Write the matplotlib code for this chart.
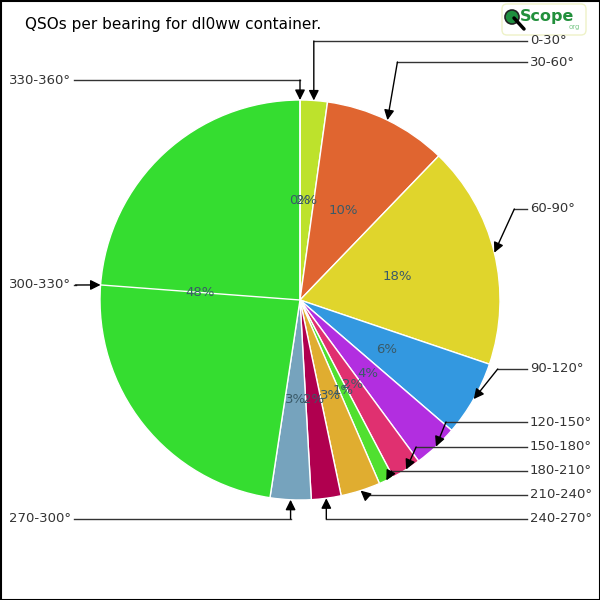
"""QSOs per bearing pie chart for dl0ww container."""

import numpy as np
import matplotlib.pyplot as plt
from matplotlib.patches import FancyBboxPatch, Circle

bearings = ["0-30°", "30-60°", "60-90°", "90-120°", "120-150°", "150-180°",
            "180-210°", "210-240°", "240-270°", "270-300°", "300-330°", "330-360°"]
shares = [2.2, 10.0, 18.0, 6.1, 3.6, 2.4, 1.2, 3.2, 2.4, 3.3, 47.6, 0.0]
colors = ["#bde22c", "#e06530", "#e0d52c", "#3398e0", "#b22ee0", "#e03070",
          "#50e030", "#e0ad30", "#b0004f", "#76a3bd", "#35dd30", "#e0e0e0"]

# label layout: (side, label y in pixels from top, elbow x offset)
label_y = [41, 62, 209, 369, 422, 447, 471, 495, 519, 519, 285, 80]
label_side = ["r", "r", "r", "r", "r", "r", "r", "r", "r", "l", "l", "l"]
elbow_dx = [0, 10, 20, 24, 10, 10, 5, 5, 0, 0, -25, 0]

H = 600
cx, cy, R = 300, 300, 200


def py(y):
    return H - y


fig = plt.figure(figsize=(6, 6), dpi=100)
ax = fig.add_axes([0, 0, 1, 1])

ax.pie(shares, colors=colors, startangle=90, counterclock=False,
       center=(cx, cy), radius=R, frame=True,
       autopct=lambda p: f"{p:.0f}%", pctdistance=0.5,
       wedgeprops={"edgecolor": "white", "linewidth": 1.0},
       textprops={"color": "#3a5a68", "fontsize": 9.5})
ax.set_xlim(0, 600)
ax.set_ylim(0, 600)
ax.set_aspect("equal")
ax.axis("off")

# mid angles (clockwise from top)
frac = np.array(shares) / sum(shares)
starts = np.concatenate([[0], np.cumsum(frac)[:-1]])
mids = (starts + frac / 2) * 2 * np.pi

for i, name in enumerate(bearings):
    tx = cx + R * np.sin(mids[i])
    ty = cy + R * np.cos(mids[i])
    ly = py(label_y[i])
    ex = tx + elbow_dx[i]
    if label_side[i] == "r":
        ax.plot([527, ex], [ly, ly], color="#333333", lw=1)
        ax.text(530, ly, name, ha="left", va="center", fontsize=9.5, color="#333333")
    else:
        ax.plot([74, ex], [ly, ly], color="#333333", lw=1)
        ax.text(71, ly, name, ha="right", va="center", fontsize=9.5, color="#333333")
    ax.annotate("", xy=(tx, ty), xytext=(ex, ly),
                arrowprops={"arrowstyle": "-|>", "color": "black", "lw": 1,
                            "mutation_scale": 15, "shrinkA": 0, "shrinkB": 0})

# thin white split line through the big slice
big = int(np.argmax(shares))
ax.plot([cx, cx + R * np.sin(mids[big])], [cy, cy + R * np.cos(mids[big])],
        color="white", lw=1)

ax.text(25, py(25), "QSOs per bearing for dl0ww container.", fontsize=11,
        ha="left", va="center", color="black")

# logo
ax.add_patch(FancyBboxPatch((502, py(35)), 84, 31, boxstyle="round,pad=0,rounding_size=5",
                            facecolor="white", edgecolor="#eef2c8", lw=1))
ax.plot([514, 524], [py(18), py(29)], color="black", lw=2.5, solid_capstyle="round")
ax.add_patch(Circle((512, py(17)), 7, facecolor="#1f8f3f", edgecolor="#222222", lw=1.2))
ax.text(520, py(17), "Scope", fontsize=11.5, fontweight="bold", color="#22903c",
        ha="left", va="center")
ax.text(569, py(27), "org", fontsize=5, color="#7cc88a", ha="left", va="center")

# black frame
ax.add_patch(plt.Rectangle((0.5, 0.5), 599, 599, fill=False, edgecolor="black", lw=1.5))

fig.savefig("out.png", dpi=100, facecolor="white")
